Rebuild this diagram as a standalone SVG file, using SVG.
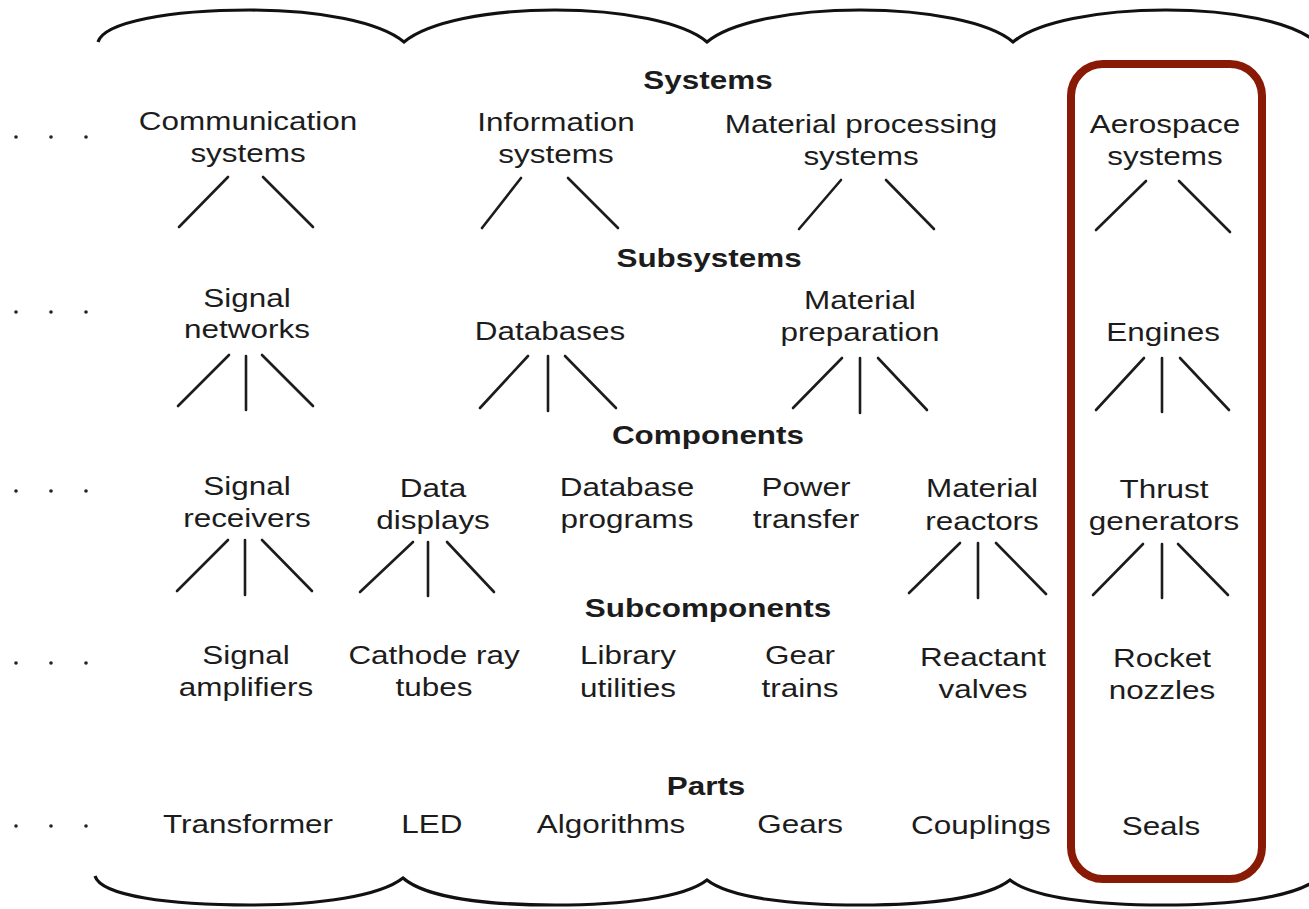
<svg xmlns="http://www.w3.org/2000/svg" width="1309" height="909" viewBox="0 0 1309 909">
<style>
text{font-family:"Liberation Sans",Arial,sans-serif;font-size:26px;fill:#1c1c1c;text-anchor:middle}
.h{font-weight:bold}
.c line{stroke:#1c1c1c;stroke-width:2.6;stroke-linecap:round}
.brace{fill:none;stroke:#111;stroke-width:3.2;stroke-linejoin:miter}
.dot{fill:#222}
</style>
<rect width="1309" height="909" fill="#fff"/>
<g id="braces">
<path class="brace" d="M98,42 C104,22 170,10 250,10 C320,10 380,22 404,42 C428,22 488,10 555,10 C622,10 684,22 707,42 C731,22 792,10 860,10 C928,10 990,22 1013,42 C1037,22 1098,10 1166,10 C1234,10 1292,22 1316,42"/>
<path class="brace" d="M95,876 C101,896 170,905 250,905 C320,905 380,896 403,878 C426,898 488,905 555,905 C622,905 684,898 707,880 C730,898 792,905 860,905 C928,905 987,898 1010,880 C1033,898 1095,905 1163,905 C1231,905 1292,898 1316,880"/>
</g>
<g id="dots">
<circle class="dot" cx="16" cy="137" r="1.8"/><circle class="dot" cx="51" cy="137" r="1.8"/><circle class="dot" cx="86" cy="137" r="1.8"/>
<circle class="dot" cx="16" cy="312" r="1.8"/><circle class="dot" cx="51" cy="312" r="1.8"/><circle class="dot" cx="86" cy="312" r="1.8"/>
<circle class="dot" cx="16" cy="491" r="1.8"/><circle class="dot" cx="51" cy="491" r="1.8"/><circle class="dot" cx="86" cy="491" r="1.8"/>
<circle class="dot" cx="16" cy="663" r="1.8"/><circle class="dot" cx="51" cy="663" r="1.8"/><circle class="dot" cx="86" cy="663" r="1.8"/>
<circle class="dot" cx="16" cy="826" r="1.8"/><circle class="dot" cx="51" cy="826" r="1.8"/><circle class="dot" cx="86" cy="826" r="1.8"/>
</g>
<g id="headers">
<text class="h" transform="scale(1.21 1)" x="585.1" y="89">Systems</text>
<text class="h" transform="scale(1.21 1)" x="586" y="267">Subsystems</text>
<text class="h" transform="scale(1.21 1)" x="585.1" y="444">Components</text>
<text class="h" transform="scale(1.21 1)" x="585.1" y="617">Subcomponents</text>
<text class="h" transform="scale(1.21 1)" x="583.5" y="795">Parts</text>
</g>
<g id="n-communication-systems"><text transform="scale(1.21 1)" x="205" y="130">Communication</text><text transform="scale(1.21 1)" x="205" y="162">systems</text></g>
<g id="n-information-systems"><text transform="scale(1.21 1)" x="459.5" y="131">Information</text><text transform="scale(1.21 1)" x="459.5" y="163">systems</text></g>
<g id="n-material-processing-systems"><text transform="scale(1.21 1)" x="711.6" y="133">Material processing</text><text transform="scale(1.21 1)" x="711.6" y="165">systems</text></g>
<g id="n-aerospace-systems"><text transform="scale(1.21 1)" x="962.8" y="133">Aerospace</text><text transform="scale(1.21 1)" x="962.8" y="165">systems</text></g>
<g id="n-signal-networks"><text transform="scale(1.21 1)" x="204.1" y="307">Signal</text><text transform="scale(1.21 1)" x="204.1" y="338">networks</text></g>
<g id="n-databases"><text transform="scale(1.21 1)" x="454.5" y="340">Databases</text></g>
<g id="n-material-preparation"><text transform="scale(1.21 1)" x="710.7" y="309">Material</text><text transform="scale(1.21 1)" x="710.7" y="341">preparation</text></g>
<g id="n-engines"><text transform="scale(1.21 1)" x="961.2" y="341">Engines</text></g>
<g id="n-signal-receivers"><text transform="scale(1.21 1)" x="204.1" y="495">Signal</text><text transform="scale(1.21 1)" x="204.1" y="527">receivers</text></g>
<g id="n-data-displays"><text transform="scale(1.21 1)" x="357.9" y="497">Data</text><text transform="scale(1.21 1)" x="357.9" y="529">displays</text></g>
<g id="n-database-programs"><text transform="scale(1.21 1)" x="518.2" y="496">Database</text><text transform="scale(1.21 1)" x="518.2" y="528">programs</text></g>
<g id="n-power-transfer"><text transform="scale(1.21 1)" x="666.1" y="496">Power</text><text transform="scale(1.21 1)" x="666.1" y="528">transfer</text></g>
<g id="n-material-reactors"><text transform="scale(1.21 1)" x="811.6" y="497">Material</text><text transform="scale(1.21 1)" x="811.6" y="530">reactors</text></g>
<g id="n-thrust-generators"><text transform="scale(1.21 1)" x="962" y="498">Thrust</text><text transform="scale(1.21 1)" x="962" y="530">generators</text></g>
<g id="n-signal-amplifiers"><text transform="scale(1.21 1)" x="203.3" y="664">Signal</text><text transform="scale(1.21 1)" x="203.3" y="696">amplifiers</text></g>
<g id="n-cathode-ray-tubes"><text transform="scale(1.21 1)" x="358.7" y="664">Cathode ray</text><text transform="scale(1.21 1)" x="358.7" y="696">tubes</text></g>
<g id="n-library-utilities"><text transform="scale(1.21 1)" x="519" y="664">Library</text><text transform="scale(1.21 1)" x="519" y="697">utilities</text></g>
<g id="n-gear-trains"><text transform="scale(1.21 1)" x="661.2" y="664">Gear</text><text transform="scale(1.21 1)" x="661.2" y="697">trains</text></g>
<g id="n-reactant-valves"><text transform="scale(1.21 1)" x="812.4" y="666">Reactant</text><text transform="scale(1.21 1)" x="812.4" y="698">valves</text></g>
<g id="n-rocket-nozzles"><text transform="scale(1.21 1)" x="960.3" y="667">Rocket</text><text transform="scale(1.21 1)" x="960.3" y="699">nozzles</text></g>
<g id="n-transformer"><text transform="scale(1.21 1)" x="205" y="833">Transformer</text></g>
<g id="n-led"><text transform="scale(1.21 1)" x="357" y="833">LED</text></g>
<g id="n-algorithms"><text transform="scale(1.21 1)" x="505" y="833">Algorithms</text></g>
<g id="n-gears"><text transform="scale(1.21 1)" x="661.2" y="833">Gears</text></g>
<g id="n-couplings"><text transform="scale(1.21 1)" x="810.7" y="834">Couplings</text></g>
<g id="n-seals"><text transform="scale(1.21 1)" x="959.5" y="835">Seals</text></g>
<g id="connectors" class="c">
<line x1="228" y1="177" x2="179" y2="227"/><line x1="263" y1="177" x2="313" y2="227"/>
<line x1="521" y1="178" x2="482" y2="228"/><line x1="568" y1="178" x2="618" y2="228"/>
<line x1="841" y1="180" x2="799" y2="229"/><line x1="886" y1="180" x2="934" y2="229"/>
<line x1="1146" y1="181" x2="1096" y2="230"/><line x1="1179" y1="181" x2="1230" y2="232"/>
<line x1="229" y1="355" x2="178" y2="406"/><line x1="246" y1="356" x2="246" y2="410"/><line x1="262" y1="355" x2="313" y2="406"/>
<line x1="528" y1="356" x2="480" y2="408"/><line x1="548" y1="356" x2="548" y2="411"/><line x1="565" y1="356" x2="616" y2="408"/>
<line x1="842" y1="358" x2="793" y2="408"/><line x1="860" y1="358" x2="860" y2="413"/><line x1="878" y1="358" x2="927" y2="410"/>
<line x1="1144" y1="358" x2="1096" y2="410"/><line x1="1162" y1="358" x2="1162" y2="412"/><line x1="1180" y1="358" x2="1229" y2="410"/>
<line x1="228" y1="540" x2="177" y2="591"/><line x1="245" y1="540" x2="245" y2="595"/><line x1="262" y1="540" x2="312" y2="591"/>
<line x1="413" y1="542" x2="360" y2="592"/><line x1="428" y1="542" x2="428" y2="596"/><line x1="447" y1="542" x2="494" y2="592"/>
<line x1="960" y1="543" x2="909" y2="593"/><line x1="978" y1="543" x2="978" y2="598"/><line x1="996" y1="543" x2="1046" y2="594"/>
<line x1="1143" y1="544" x2="1093" y2="595"/><line x1="1162" y1="544" x2="1162" y2="598"/><line x1="1178" y1="544" x2="1228" y2="595"/>
</g>
<g id="highlight">
<rect x="1071" y="64" width="191" height="815" rx="32" ry="32" fill="none" stroke="#891a05" stroke-width="8"/>
</g>
</svg>
